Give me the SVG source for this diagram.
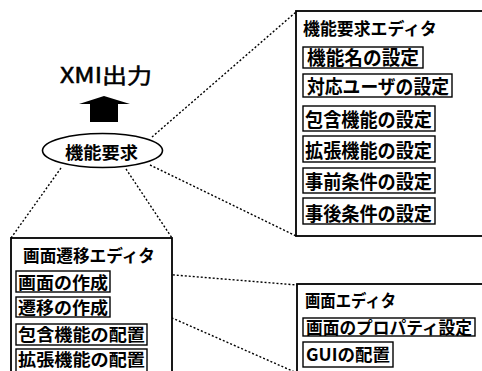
<svg xmlns="http://www.w3.org/2000/svg" width="482" height="371" viewBox="0 0 482 371">
<style>
  text { font-family: "Noto Sans CJK JP", "Liberation Sans", sans-serif; fill: #000; }
  .t { font-size: 17px; font-weight: bold; }
  .lbl { font-size: 19px; font-weight: bold; }
  .sm { font-size: 17px; font-weight: bold; }
  .frame { fill: #fff; stroke: #000; stroke-width: 1.8; }
  .item { fill: none; stroke: #000; stroke-width: 1.4; }
  .dot { fill: none; stroke: #000; stroke-width: 1.4; stroke-dasharray: 2 2; }
</style>
<rect width="482" height="371" fill="#fff"/>
<g id="connectors">
  <line class="dot" x1="152" y1="137" x2="296" y2="12"/>
  <line class="dot" x1="150" y1="165" x2="296" y2="236"/>
  <line class="dot" x1="61" y1="168" x2="11" y2="238"/>
  <line class="dot" x1="126" y1="169" x2="172" y2="238"/>
  <line class="dot" x1="113" y1="270" x2="297" y2="285"/>
  <line class="dot" x1="113" y1="292" x2="297" y2="373"/>
</g>
<g id="xmi-output">
  <text x="60" y="83" font-size="21" stroke="#000" stroke-width="0.5" textLength="92" lengthAdjust="spacingAndGlyphs">XMI出力</text>
  <polygon points="79,104 104,96 130,104 118,104 118,122 90,122 90,104" fill="#000"/>
</g>
<g id="kinou-youkyuu">
  <ellipse cx="102.5" cy="150.5" rx="60" ry="17" fill="#fff" stroke="#000" stroke-width="1.6"/>
  <text class="t" x="65" y="159" textLength="73" lengthAdjust="spacingAndGlyphs">機能要求</text>
</g>
<g id="kinou-editor">
  <rect class="frame" x="296" y="11" width="200" height="225"/>
  <text class="t" x="303" y="35" textLength="134" lengthAdjust="spacingAndGlyphs">機能要求エディタ</text>
  <rect class="item" x="303" y="47" width="120" height="21"/>
  <text class="lbl" x="307" y="65" textLength="112" lengthAdjust="spacingAndGlyphs">機能名の設定</text>
  <rect class="item" x="303" y="74" width="149" height="23"/>
  <text class="lbl" x="307" y="94" textLength="142" lengthAdjust="spacingAndGlyphs">対応ユーザの設定</text>
  <rect class="item" x="303" y="106" width="132" height="25"/>
  <text class="lbl" x="305" y="127" textLength="127" lengthAdjust="spacingAndGlyphs">包含機能の設定</text>
  <rect class="item" x="303" y="136" width="132" height="26"/>
  <text class="lbl" x="305" y="158" textLength="127" lengthAdjust="spacingAndGlyphs">拡張機能の設定</text>
  <rect class="item" x="303" y="168" width="132" height="25"/>
  <text class="lbl" x="305" y="189" textLength="127" lengthAdjust="spacingAndGlyphs">事前条件の設定</text>
  <rect class="item" x="303" y="198" width="132" height="26"/>
  <text class="lbl" x="305" y="221" textLength="127" lengthAdjust="spacingAndGlyphs">事後条件の設定</text>
</g>
<g id="seni-editor">
  <rect class="frame" x="11" y="238" width="161" height="150"/>
  <text class="t" x="23" y="262" textLength="132" lengthAdjust="spacingAndGlyphs">画面遷移エディタ</text>
  <rect class="item" x="16" y="271" width="94" height="21"/>
  <text class="sm" x="18" y="289" textLength="90" lengthAdjust="spacingAndGlyphs">画面の作成</text>
  <rect class="item" x="16" y="297" width="94" height="20"/>
  <text class="sm" x="18" y="314" textLength="90" lengthAdjust="spacingAndGlyphs">遷移の作成</text>
  <rect class="item" x="16" y="324" width="131" height="21"/>
  <text class="sm" x="18" y="341" textLength="127" lengthAdjust="spacingAndGlyphs">包含機能の配置</text>
  <rect class="item" x="16" y="349" width="131" height="23"/>
  <text class="sm" x="18" y="366" textLength="127" lengthAdjust="spacingAndGlyphs">拡張機能の配置</text>
</g>
<g id="gamen-editor">
  <rect class="frame" x="297" y="284" width="200" height="100"/>
  <text class="t" x="305" y="307" textLength="91" lengthAdjust="spacingAndGlyphs">画面エディタ</text>
  <rect class="item" x="303" y="318" width="172" height="18"/>
  <text class="sm" x="306" y="334" textLength="166" lengthAdjust="spacingAndGlyphs">画面のプロパティ設定</text>
  <rect class="item" x="303" y="342" width="90" height="25"/>
  <text class="sm" x="306" y="361" textLength="84" lengthAdjust="spacingAndGlyphs">GUIの配置</text>
</g>
</svg>
